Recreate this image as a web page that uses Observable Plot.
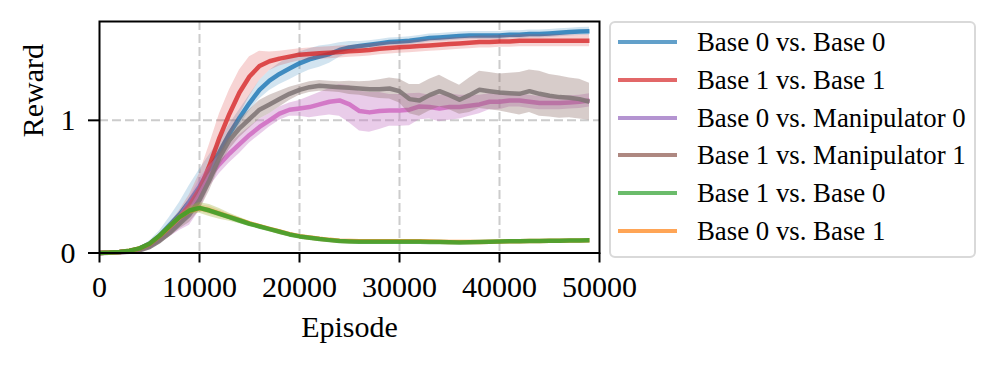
<!DOCTYPE html>
<html>
<head>
<meta charset="utf-8">
<script src="https://cdn.jsdelivr.net/npm/d3@7"></script>
<script src="https://cdn.jsdelivr.net/npm/@observablehq/plot@0.6"></script>
<style>
  html, body { margin: 0; padding: 0; background: #fff; }
  #wrap { position: relative; width: 997px; height: 366px; font-family: 'Liberation Serif', 'Times New Roman', serif; }
  #chart { position: absolute; left: 0; top: 0; }
  #legend { position: absolute; left: 609px; top: 21px; width: 367px; height: 237px; box-sizing: border-box;
            border: 2px solid #d9d9d9; border-radius: 6px; background: #fff; }
  .row { position: absolute; left: 0; height: 38px; display: flex; align-items: center; white-space: nowrap; }
  .swatch { width: 59px; height: 4px; margin-left: 7px; margin-right: 20px; }
  .lbl { font-size: 26.8px; color: #000; line-height: 38px; }
</style>
</head>
<body>
<div id="wrap"><div id="chart"></div><div id="legend"></div></div>
<script>
const episodes = [0,1000,2000,3000,4000,5000,6000,7000,8000,9000,10000,11000,12000,13000,14000,15000,16000,17000,18000,19000,20000,21000,22000,23000,24000,25000,26000,27000,28000,29000,30000,31000,32000,33000,34000,35000,36000,37000,38000,39000,40000,41000,42000,43000,44000,45000,46000,47000,48000,49000];

const seriesNames = ["Base 0 vs. Base 0","Base 1 vs. Base 1","Base 0 vs. Manipulator 0","Base 1 vs. Manipulator 1","Base 1 vs. Base 0","Base 0 vs. Base 1"];
const legendColors = ["#1f77b4","#d62728","#9467bd","#8c564b","#2ca02c","#ff7f0e"];

const b0b0 = [0,0.003,0.008,0.016,0.033,0.07,0.13,0.21,0.29,0.39,0.50,0.63,0.76,0.90,1.02,1.13,1.23,1.30,1.35,1.39,1.43,1.46,1.48,1.50,1.53,1.55,1.56,1.57,1.58,1.59,1.595,1.60,1.61,1.62,1.625,1.63,1.635,1.64,1.64,1.64,1.64,1.645,1.645,1.65,1.65,1.655,1.66,1.665,1.67,1.672];
const b0b0Spread = [0.002,0.003,0.004,0.006,0.01,0.02,0.035,0.06,0.09,0.12,0.13,0.11,0.09,0.07,0.06,0.06,0.07,0.075,0.08,0.085,0.085,0.08,0.08,0.07,0.055,0.045,0.035,0.03,0.03,0.03,0.03,0.03,0.03,0.03,0.03,0.03,0.03,0.03,0.03,0.03,0.03,0.03,0.03,0.03,0.03,0.03,0.03,0.03,0.03,0.03];

const b1b1 = [0,0.003,0.008,0.016,0.032,0.065,0.12,0.19,0.27,0.36,0.48,0.66,0.87,1.05,1.21,1.33,1.41,1.445,1.465,1.48,1.495,1.50,1.505,1.51,1.515,1.52,1.525,1.53,1.54,1.545,1.55,1.555,1.56,1.565,1.57,1.575,1.58,1.585,1.59,1.59,1.595,1.595,1.60,1.60,1.60,1.60,1.60,1.60,1.60,1.60];
const b1b1Spread = [0.002,0.003,0.004,0.006,0.008,0.012,0.02,0.03,0.05,0.08,0.12,0.16,0.18,0.18,0.17,0.15,0.11,0.07,0.055,0.05,0.045,0.045,0.045,0.045,0.045,0.045,0.045,0.045,0.045,0.045,0.045,0.045,0.045,0.045,0.045,0.045,0.045,0.045,0.045,0.045,0.045,0.045,0.045,0.045,0.045,0.045,0.045,0.045,0.045,0.045];

const b0m0 = [0,0.002,0.006,0.012,0.025,0.05,0.10,0.16,0.23,0.31,0.44,0.58,0.67,0.75,0.82,0.89,0.95,1.00,1.05,1.08,1.09,1.10,1.12,1.14,1.15,1.12,1.07,1.06,1.07,1.075,1.075,1.08,1.105,1.10,1.09,1.10,1.10,1.11,1.12,1.14,1.14,1.15,1.15,1.14,1.13,1.13,1.13,1.135,1.14,1.15];
const b0m0Spread = [0.002,0.002,0.003,0.005,0.008,0.015,0.025,0.04,0.06,0.10,0.12,0.08,0.07,0.07,0.07,0.06,0.06,0.05,0.05,0.05,0.06,0.08,0.09,0.10,0.12,0.14,0.15,0.15,0.14,0.12,0.12,0.12,0.10,0.09,0.10,0.10,0.09,0.08,0.07,0.06,0.06,0.05,0.05,0.05,0.05,0.05,0.05,0.05,0.05,0.05];

const b1m1 = [0,0.002,0.005,0.01,0.02,0.045,0.09,0.15,0.22,0.29,0.40,0.55,0.72,0.85,0.94,1.01,1.08,1.12,1.16,1.20,1.23,1.25,1.26,1.255,1.25,1.245,1.24,1.235,1.235,1.24,1.22,1.16,1.15,1.19,1.22,1.19,1.155,1.19,1.23,1.22,1.21,1.205,1.20,1.22,1.20,1.185,1.175,1.17,1.16,1.14];
const b1m1Spread = [0.002,0.002,0.003,0.005,0.008,0.012,0.02,0.03,0.04,0.06,0.08,0.08,0.07,0.07,0.07,0.07,0.07,0.07,0.06,0.05,0.04,0.04,0.04,0.04,0.04,0.05,0.05,0.06,0.07,0.08,0.09,0.11,0.12,0.12,0.12,0.11,0.11,0.13,0.14,0.14,0.14,0.15,0.16,0.16,0.17,0.16,0.16,0.15,0.15,0.14];

const b1b0 = [0,0.003,0.008,0.017,0.035,0.07,0.13,0.20,0.27,0.32,0.34,0.32,0.295,0.27,0.245,0.22,0.20,0.18,0.16,0.14,0.125,0.115,0.105,0.097,0.09,0.087,0.085,0.084,0.084,0.084,0.084,0.084,0.084,0.083,0.082,0.081,0.08,0.081,0.083,0.085,0.087,0.088,0.089,0.09,0.091,0.092,0.093,0.094,0.095,0.096];
const b1b0Spread = [0.002,0.003,0.004,0.006,0.008,0.012,0.015,0.02,0.02,0.03,0.04,0.045,0.04,0.03,0.025,0.02,0.015,0.012,0.01,0.01,0.008,0.008,0.008,0.008,0.008,0.008,0.008,0.008,0.008,0.008,0.008,0.008,0.008,0.008,0.008,0.008,0.008,0.008,0.008,0.008,0.008,0.008,0.008,0.008,0.008,0.008,0.008,0.008,0.008,0.008];

const b0b1 = [0,0.003,0.008,0.017,0.034,0.068,0.128,0.198,0.268,0.318,0.338,0.322,0.297,0.272,0.248,0.223,0.202,0.182,0.162,0.142,0.127,0.117,0.107,0.099,0.093,0.09,0.088,0.088,0.088,0.088,0.088,0.088,0.088,0.087,0.085,0.083,0.082,0.082,0.083,0.085,0.087,0.088,0.089,0.09,0.091,0.092,0.093,0.094,0.095,0.096];
const b0b1Spread = [0.002,0.003,0.004,0.006,0.008,0.01,0.012,0.015,0.015,0.02,0.025,0.03,0.025,0.02,0.015,0.012,0.01,0.01,0.008,0.008,0.006,0.006,0.006,0.006,0.006,0.006,0.006,0.006,0.006,0.006,0.006,0.006,0.006,0.006,0.006,0.006,0.006,0.006,0.006,0.006,0.006,0.006,0.006,0.006,0.006,0.006,0.006,0.006,0.006,0.006];

const xTicks = [0,10000,20000,30000,40000,50000];
const yTicks = [0,1];
const xGrid = [10000,20000,30000,40000];
const yGrid = [1];

// drawing order (bottom to top) and on-chart styling
const drawn = [
  {mean: b0b0, spread: b0b0Spread, line: "#1f77b4", lineOp: 0.82, band: "#1f77b4", bandOp: 0.2},
  {mean: b1b1, spread: b1b1Spread, line: "#d62728", lineOp: 0.8, band: "#d62728", bandOp: 0.2},
  {mean: b0m0, spread: b0m0Spread, line: "#d070c3", lineOp: 0.9, band: "#c77fc8", bandOp: 0.4},
  {mean: b1m1, spread: b1m1Spread, line: "#7f7575", lineOp: 0.88, band: "#8c6d68", bandOp: 0.35},
  {mean: b0b1, spread: b0b1Spread, line: "#ff7f0e", lineOp: 0.8, band: "#ff7f0e", bandOp: 0.2},
  {mean: b1b0, spread: b1b0Spread, line: "#2ca02c", lineOp: 0.8, band: "#a3b23a", bandOp: 0.35}
];

const marks = [
  Plot.ruleX(xGrid, {stroke: "#cccccc", strokeWidth: 2, strokeDasharray: "9,4"}),
  Plot.ruleY(yGrid, {stroke: "#cccccc", strokeWidth: 2, strokeDasharray: "9,4"})
];
for (const s of drawn) {
  const rows = episodes.map((x, i) => ({x, y: s.mean[i], lo: s.mean[i] - s.spread[i], hi: s.mean[i] + s.spread[i]}));
  marks.push(Plot.areaY(rows, {x: "x", y1: "lo", y2: "hi", fill: s.band, fillOpacity: s.bandOp}));
  marks.push(Plot.line(rows, {x: "x", y: "y", stroke: s.line, strokeOpacity: s.lineOp, strokeWidth: 4.5, strokeLinejoin: "round", strokeLinecap: "butt"}));
}
marks.push(
  Plot.frame({stroke: "black", strokeWidth: 2}),
  Plot.axisX(xTicks, {tickSize: 10, tickPadding: 13, fontSize: 30, strokeWidth: 2, tickFormat: d => String(d), label: null}),
  Plot.axisY(yTicks, {tickSize: 11, tickPadding: 13, fontSize: 30, strokeWidth: 2, tickFormat: d => String(d), label: null}),
  Plot.text(["Episode"], {text: d => d, frameAnchor: "bottom", dy: 83.5, lineAnchor: "bottom", fontSize: 30}),
  Plot.text(["Reward"], {text: d => d, frameAnchor: "left", dx: -66, rotate: -90, fontSize: 30})
);

const chart = Plot.plot({
  width: 650, height: 366,
  marginLeft: 99, marginRight: 51, marginTop: 21, marginBottom: 113.5,
  x: {domain: [0, 50000]},
  y: {domain: [0, 1.745]},
  style: {fontFamily: "'Liberation Serif', 'Times New Roman', serif", background: "transparent", color: "black", overflow: "visible"},
  marks
});
document.getElementById("chart").appendChild(chart);

const legend = document.getElementById("legend");
seriesNames.forEach((name, i) => {
  const row = document.createElement("div");
  row.className = "row";
  row.style.top = (i * 37.8) + "px";
  const sw = document.createElement("div");
  sw.className = "swatch";
  sw.style.background = legendColors[i];
  sw.style.opacity = 0.7;
  const tx = document.createElement("span");
  tx.className = "lbl";
  tx.textContent = name;
  row.appendChild(sw);
  row.appendChild(tx);
  legend.appendChild(row);
});
</script>
</body>
</html>
